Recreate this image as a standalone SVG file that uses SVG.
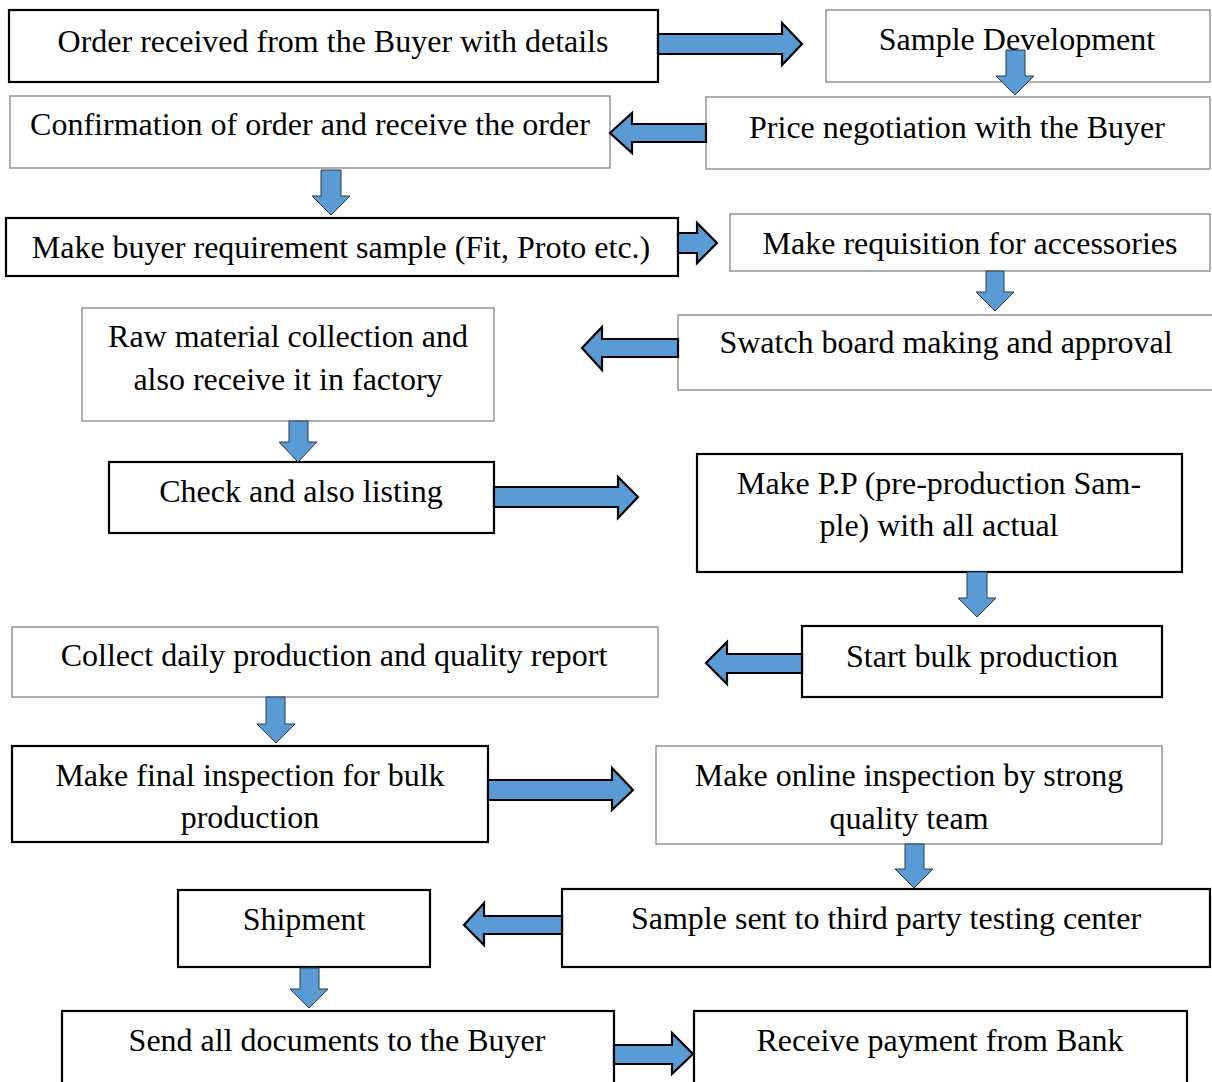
<svg xmlns="http://www.w3.org/2000/svg" width="1212" height="1082" viewBox="0 0 1212 1082">
  <style>
    .bx { fill: #ffffff; }
    .thick { stroke: #000000; stroke-width: 2.2; }
    .thin { stroke: #7a7a7a; stroke-width: 1.2; }
    .lbl { font-family: "Liberation Serif", "Times New Roman", serif; font-size: 32px; fill: #000000; text-anchor: middle; }
    .ha { fill: #5b9bd5; stroke: #000000; stroke-width: 2.2; stroke-linejoin: miter; }
    .va { fill: #5b9bd5; stroke: #2b3a4a; stroke-width: 1; stroke-linejoin: miter; }
  </style>
  <rect width="1212" height="1082" fill="#ffffff"/>

  <!-- process steps -->
  <g id="order-received">
    <rect class="bx thick" x="9" y="10" width="649" height="72"/>
    <text class="lbl" x="333" y="52">Order received from the Buyer with details</text>
  </g>
  <g id="sample-development">
    <rect class="bx thin" x="826" y="10" width="384" height="72"/>
    <text class="lbl" x="1017" y="50">Sample Development</text>
  </g>
  <g id="confirmation">
    <rect class="bx thin" x="10" y="96" width="600" height="72"/>
    <text class="lbl" x="310" y="135">Confirmation of order and receive the order</text>
  </g>
  <g id="price-negotiation">
    <rect class="bx thin" x="706" y="97" width="504" height="72"/>
    <text class="lbl" x="957" y="138">Price negotiation with the Buyer</text>
  </g>
  <g id="buyer-sample">
    <rect class="bx thick" x="6" y="218" width="672" height="58"/>
    <text class="lbl" x="341" y="258">Make buyer requirement sample (Fit, Proto etc.)</text>
  </g>
  <g id="requisition">
    <rect class="bx thin" x="730" y="214" width="480" height="57"/>
    <text class="lbl" x="970" y="254">Make requisition for accessories</text>
  </g>
  <g id="swatch-board">
    <rect class="bx thin" x="678" y="315" width="536" height="75"/>
    <text class="lbl" x="946" y="353">Swatch board making and approval</text>
  </g>
  <g id="raw-material">
    <rect class="bx thin" x="82" y="308" width="412" height="113"/>
    <text class="lbl" x="288" y="347">Raw material collection and</text>
    <text class="lbl" x="288" y="390">also receive it in factory</text>
  </g>
  <g id="check-listing">
    <rect class="bx thick" x="109" y="462" width="385" height="71"/>
    <text class="lbl" x="301" y="502">Check and also listing</text>
  </g>
  <g id="pp-sample">
    <rect class="bx thick" x="697" y="454" width="485" height="118"/>
    <text class="lbl" x="939" y="494">Make P.P (pre-production Sam-</text>
    <text class="lbl" x="939" y="536">ple) with all actual</text>
  </g>
  <g id="bulk-production">
    <rect class="bx thick" x="802" y="626" width="360" height="71"/>
    <text class="lbl" x="982" y="667">Start bulk production</text>
  </g>
  <g id="daily-report">
    <rect class="bx thin" x="12" y="627" width="646" height="70"/>
    <text class="lbl" x="334" y="666">Collect daily production and quality report</text>
  </g>
  <g id="final-inspection">
    <rect class="bx thick" x="12" y="746" width="476" height="96"/>
    <text class="lbl" x="250" y="786">Make final inspection for bulk</text>
    <text class="lbl" x="250" y="828">production</text>
  </g>
  <g id="online-inspection">
    <rect class="bx thin" x="656" y="746" width="506" height="98"/>
    <text class="lbl" x="909" y="786">Make online inspection by strong</text>
    <text class="lbl" x="909" y="829">quality team</text>
  </g>
  <g id="third-party-testing">
    <rect class="bx thick" x="562" y="889" width="648" height="78"/>
    <text class="lbl" x="886" y="929">Sample sent to third party testing center</text>
  </g>
  <g id="shipment">
    <rect class="bx thick" x="178" y="890" width="252" height="77"/>
    <text class="lbl" x="304" y="930">Shipment</text>
  </g>
  <g id="send-documents">
    <rect class="bx thick" x="62" y="1011" width="552" height="80"/>
    <text class="lbl" x="337" y="1051">Send all documents to the Buyer</text>
  </g>
  <g id="receive-payment">
    <rect class="bx thick" x="694" y="1011" width="493" height="80"/>
    <text class="lbl" x="940" y="1051">Receive payment from Bank</text>
  </g>

  <!-- block arrows between steps -->
  <g id="connectors">
    <!-- horizontal -->
    <polygon class="ha" points="658,34 782,34 782,23 802,44 782,65 782,54 658,54"/>
    <polygon class="ha" points="706,124 632,124 632,113 610,133 632,153 632,142 706,142"/>
    <polygon class="ha" points="678,233 697,233 697,223 717,243 697,263 697,253 678,253"/>
    <polygon class="ha" points="678,339 602,339 602,327 582,348 602,370 602,357 678,357"/>
    <polygon class="ha" points="494,487 618,487 618,477 638,497 618,518 618,507 494,507"/>
    <polygon class="ha" points="802,654 727,654 727,642 706,663 727,684 727,673 802,673"/>
    <polygon class="ha" points="488,780 612,780 612,768 633,790 612,810 612,800 488,800"/>
    <polygon class="ha" points="562,916 484,916 484,903 464,925 484,945 484,934 562,934"/>
    <polygon class="ha" points="614,1045 672,1045 672,1033 693,1054 672,1074 672,1064 614,1064"/>
    <!-- vertical -->
    <polygon class="va" points="1006,50 1025,50 1025,76 1034,76 1015,95 996,76 1006,76"/>
    <polygon class="va" points="321,170 341,170 341,196 350,196 331,215 312,196 321,196"/>
    <polygon class="va" points="986,271 1004,271 1004,292 1014,292 995,311 976,292 986,292"/>
    <polygon class="va" points="289,421 308,421 308,442 317,442 298,462 279,442 289,442"/>
    <polygon class="va" points="967,572 987,572 987,598 996,598 977,617 958,598 967,598"/>
    <polygon class="va" points="266,697 285,697 285,724 295,724 276,743 257,724 266,724"/>
    <polygon class="va" points="905,844 924,844 924,869 933,869 914,888 895,869 905,869"/>
    <polygon class="va" points="300,968 319,968 319,989 328,989 309,1008 290,989 300,989"/>
  </g>
</svg>
